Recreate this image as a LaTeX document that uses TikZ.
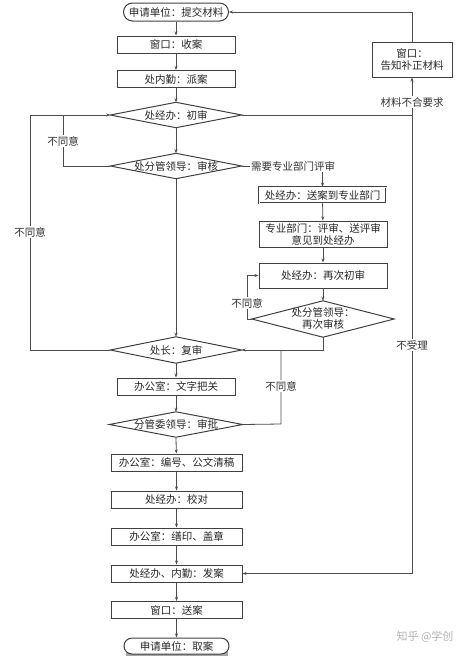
\documentclass[tikz,border=0pt]{standalone}
\usepackage{fontspec}
\setmainfont{Noto Sans CJK SC}
\usetikzlibrary{arrows.meta}
\begin{document}
\begin{tikzpicture}[x=1pt,y=-1pt,
  font=\fontsize{10.5}{12}\selectfont,
  line/.style={draw=black!70, line width=0.8pt},
  arr/.style={line, -{Stealth[length=4pt,width=3pt]}},
  procbox/.style={draw=black!75, line width=1pt, rectangle, inner sep=0pt, minimum height=17pt, text=black!85},
  wbox/.style={procbox, minimum width=118pt},
  nbox/.style={procbox, minimum width=131pt},
  term/.style={draw=black!75, line width=1pt, rectangle, rounded corners=9pt, inner sep=0pt, minimum width=105pt, minimum height=18pt, text=black!85},
  dia/.style={rectangle, inner sep=0pt, text=black!85, align=center},
  lab/.style={fill=white, inner sep=1pt, text=black!80},
]
\useasboundingbox (0,0) rectangle (474,657);

% main column
\node[term] (start) at (176,12) {申请单位：提交材料};
\node[wbox] (b1) at (176,44.5) {窗口：收案};
\node[wbox] (b2) at (176,79) {处内勤：派案};
\node[dia, minimum width=131pt, minimum height=25pt] (d1) at (176,115) {处经办：初审};
\node[dia, minimum width=131pt, minimum height=25pt] (d2) at (176,166) {处分管领导：审核};
\node[dia, minimum width=131pt, minimum height=26pt] (d5) at (176,350) {处长：复审};
\node[wbox] (b3) at (176,386.5) {办公室：文字把关};
\node[dia, minimum width=133pt, minimum height=25pt] (d4) at (176,424.5) {分管委领导：审批};
\node[nbox] (b4) at (176.5,462.5) {办公室：编号、公文清稿};
\node[nbox] (b5) at (176.5,499.5) {处经办：校对};
\node[nbox] (b6) at (176.5,536.5) {办公室：缮印、盖章};
\node[nbox] (b7) at (176.5,573.5) {处经办、内勤：发案};
\node[nbox] (b8) at (176.5,610) {窗口：送案};
\fill[black!35] (126,640) rectangle (228,656);
\node[term, fill=white, minimum height=16pt, rounded corners=8pt] (end) at (176.5,646) {申请单位：取案};

% right column
\node[procbox, minimum width=80pt, minimum height=35pt, align=center] (fix) at (412,59.5) {窗口：\\告知补正材料};
\node[procbox, minimum width=127pt, minimum height=16pt, double, double distance=0.6pt, line width=0.5pt] (s1) at (322.5,195) {处经办：送案到专业部门};
\node[procbox, minimum width=128pt, minimum height=26pt, align=center] (s2) at (323,234) {专业部门：评审、送评审\\意见到处经办};
\node[procbox, minimum width=128pt, minimum height=25pt] (s3) at (323,275.5) {处经办：再次初审};
\node[dia, minimum width=142pt, minimum height=36pt] (d3) at (323,319) {处分管领导：\\再次审核};

% diamond outlines
\foreach \d in {d1,d2,d3,d4,d5}
  \draw[draw=black!75, line width=1pt] (\d.west) -- (\d.north) -- (\d.east) -- (\d.south) -- cycle;

% coordinates
\coordinate (L1) at (30,115);
\coordinate (L2) at (63,115);
\coordinate (R1) at (412,115);
\coordinate (S1) at (323,166);
\coordinate (N1) at (247,319);
\coordinate (M1) at (281,424);
\coordinate (M2) at (281,350);

% main flow
\draw[arr] (start) -- (b1);
\draw[arr] (b1) -- (b2);
\draw[arr] (b2) -- (d1.north);
\draw[arr] (d1.south) -- (d2.north);
\draw[arr] (d2.south) -- (d5.north);
\draw[arr] (d5.south) -- (b3);
\draw[arr] (b3) -- (d4.north);
\draw[arr] (d4.south) -- (b4);
\draw[arr] (b4) -- (b5);
\draw[arr] (b5) -- (b6);
\draw[arr] (b6) -- (b7);
\draw[arr] (b7) -- (b8);
\draw[arr] (b8) -- (end);

% left loops
\draw[line] (d2.west) -| (L2);
\draw[arr] (d5.west) -| (L1) -- (d1.west);
\node[lab] (n1) at (63,141) {不同意};
\node[lab] (n2) at (30,232) {不同意};

% right: material check
\draw[line] (d1.east) -- (R1);
\draw[arr] (R1) -- (fix.south);
\draw[arr] (fix.north) |- (start.east);
\draw[arr] (R1) |- (b7.east);
\node[lab] (n3) at (412,102) {材料不合要求};
\node[lab] (n4) at (412,345) {不受理};

% specialist branch
\draw[arr] (d2.east) -| (s1.north);
\node[lab] (n5) at (293,166) {需要专业部门评审};
\draw[arr] (s1) -- (s2);
\draw[arr] (s2) -- (s3);
\draw[arr] (s3) -- (d3.north);
\draw[arr] (d3.west) -- (N1) |- (s3.west);
\node[lab] (n6) at (247,303) {不同意};
\draw[arr] (d3.south) |- (d5.east);

% approval disagree
\draw[line] (d4.east) -- (M1) -- (M2);
\node[lab] (n7) at (281,386) {不同意};

% watermark
\node[text=black!30, font=\fontsize{11}{12}\selectfont] (wm) at (425,637) {知乎 @学创};
\end{tikzpicture}
\end{document}
